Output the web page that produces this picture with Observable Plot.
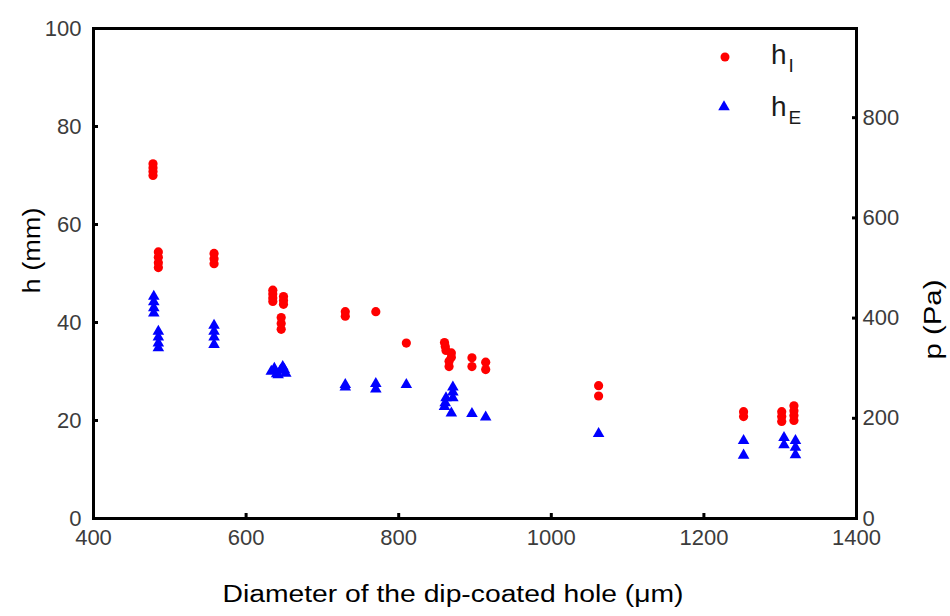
<!DOCTYPE html>
<html><head><meta charset="utf-8">
<script src="https://cdn.jsdelivr.net/npm/d3@7"></script>
<script src="https://cdn.jsdelivr.net/npm/@observablehq/plot@0.6"></script>
<style>
body{margin:0;background:#fff;}
#wrap{position:relative;width:950px;height:616px;font-family:"Liberation Sans",Arial,sans-serif;}
#legend{position:absolute;left:0;top:0;pointer-events:none;}
</style></head><body><div id="wrap"></div>
<script>
// Series h_I (red dots): diameter (µm) and height (mm)
const hI_d = [478,478,478,478, 485,485,485,485, 558,558,558, 635,635,635,635, 649,649,649, 646,646,646,
  730,730, 770, 810, 860,861,862,869,869,866,866, 896,896, 914,914, 1062,1062, 1252,1252,
  1302,1302,1302, 1318,1318,1318,1318];
const hI_h = [72.4,71.6,70.8,70.0, 54.4,53.3,52.2,51.2, 54.1,53.0,52.0, 46.6,45.8,45.0,44.3, 45.3,44.5,43.7, 41.0,39.8,38.6,
  42.2,41.3, 42.2, 35.8, 35.9,35.1,34.3,33.8,32.9,32.1,31.0, 32.8,31.0, 31.9,30.4, 27.1,25.0, 21.8,20.8,
  21.8,20.8,19.8, 23.0,22.0,21.0,20.0];
// Series h_E (blue triangles)
const hE_d = [479,479,479,479, 485,485,485,485, 558,558,558,558, 633,637,640,642,645,648,650,652,
  730,730, 770,770, 810, 871,871,871,862,861,860,869, 896, 914, 1062, 1252,1252, 1305,1305, 1320,1320,1320];
const hE_h = [45.3,44.2,43.0,41.9, 38.2,37.0,35.8,34.8, 39.4,38.2,37.0,35.5, 30.0,30.6,29.5,29.3,30.2,31.0,30.4,29.6,
  27.3,26.8, 27.5,26.4, 27.3, 26.8,25.8,24.6,24.6,23.6,22.8,21.5, 21.4, 20.7, 17.3, 15.9,12.9, 16.5,15.0, 15.9,14.5,13.0];

const xTicks = [400,600,800,1000,1200,1400];
const yTicks = [0,20,40,60,80,100];
const pTicks = [0,200,400,600,800];
const PA_PER_MM = 9.78; // rho*g
const seriesNames = [{main:"h", sub:"I", color:"#ff0000", symbol:"circle"}, {main:"h", sub:"E", color:"#0000ff", symbol:"triangle"}];
const xTitle = "Diameter of the dip-coated hole (\u03bcm)";
const yTitle = "h (mm)";
const y2Title = "p (Pa)";

const rowsI = hI_d.map((d,i)=>({d, h:hI_h[i]}));
const rowsE = hE_d.map((d,i)=>({d, h:hE_h[i]}));

const tickColor = "#3c3c3c";
const chart = Plot.plot({
  width: 950, height: 616,
  marginLeft: 93, marginRight: 94, marginTop: 28, marginBottom: 98,
  x: {domain: [400,1400]},
  y: {domain: [0,100]},
  style: {fontFamily: "'Liberation Sans', Arial, sans-serif", fontSize: "22px", background: "white", overflow: "visible"},
  marks: [
    Plot.dot(rowsI, {x:"d", y:"h", r:4.6, fill:"#ff0000"}),
    Plot.dot(rowsE, {x:"d", y:"h", r:4.3, symbol:"triangle", fill:"#0000ff"}),
    Plot.axisX(xTicks, {anchor:"bottom", tickSize:-5, tickPadding:16, strokeWidth:3, stroke:"black", fill:tickColor, label:null, tickFormat: d3.format("d")}),
    Plot.axisY(yTicks, {anchor:"left", tickSize:-5, tickPadding:17, strokeWidth:3, stroke:"black", fill:tickColor, label:null, tickFormat: d3.format("d")}),
    Plot.axisY(pTicks.map(p=>p/PA_PER_MM), {anchor:"right", tickSize:-5, tickPadding:11, strokeWidth:3, stroke:"black", fill:tickColor, label:null, tickFormat: v => String(Math.round(v*PA_PER_MM))}),
    Plot.frame({stroke:"black", strokeWidth:3}),
    Plot.text([xTitle], {frameAnchor:"bottom", dx:-22, dy:83, fontSize:23, fill:"black"}),
    Plot.text([yTitle], {frameAnchor:"left", dx:-61, dy:20, rotate:-90, fontSize:23, fill:"black"}),
    Plot.text([y2Title], {frameAnchor:"right", dx:77, dy:6, rotate:-90, fontSize:23, fill:"black"})
  ]
});
const wrap = document.getElementById("wrap");
wrap.appendChild(chart);

// stretch titles to the reference's text widths
d3.select(chart).selectAll("text").each(function(){
  const t = this.textContent;
  if (t === xTitle) { this.setAttribute("textLength", 461); this.setAttribute("lengthAdjust", "spacingAndGlyphs"); }
  if (t === yTitle) { this.setAttribute("textLength", 86); this.setAttribute("lengthAdjust", "spacingAndGlyphs"); }
  if (t === y2Title) { this.setAttribute("textLength", 80); this.setAttribute("lengthAdjust", "spacingAndGlyphs"); }
});

// legend overlay
const leg = d3.select(wrap).append("svg").attr("id","legend").attr("width",950).attr("height",616);
seriesNames.forEach((s,i)=>{
  const cy = 57 + i*50, cx = 725;
  if (s.symbol === "circle") leg.append("circle").attr("cx",cx).attr("cy",cy).attr("r",4.5).attr("fill",s.color);
  else leg.append("path").attr("d", d3.symbol(d3.symbolTriangle, Math.PI*4.3*4.3)()).attr("transform",`translate(${cx-1},${cy})`).attr("fill",s.color);
  const t = leg.append("text").attr("x",771).attr("y",cy+7+i*2).attr("font-size",28).attr("fill","#1a1a1a")
    .attr("font-family","'Liberation Sans', Arial, sans-serif");
  t.append("tspan").text(s.main);
  t.append("tspan").attr("dy",8).attr("dx",2).attr("font-size",19).text(s.sub);
});
</script></body></html>
